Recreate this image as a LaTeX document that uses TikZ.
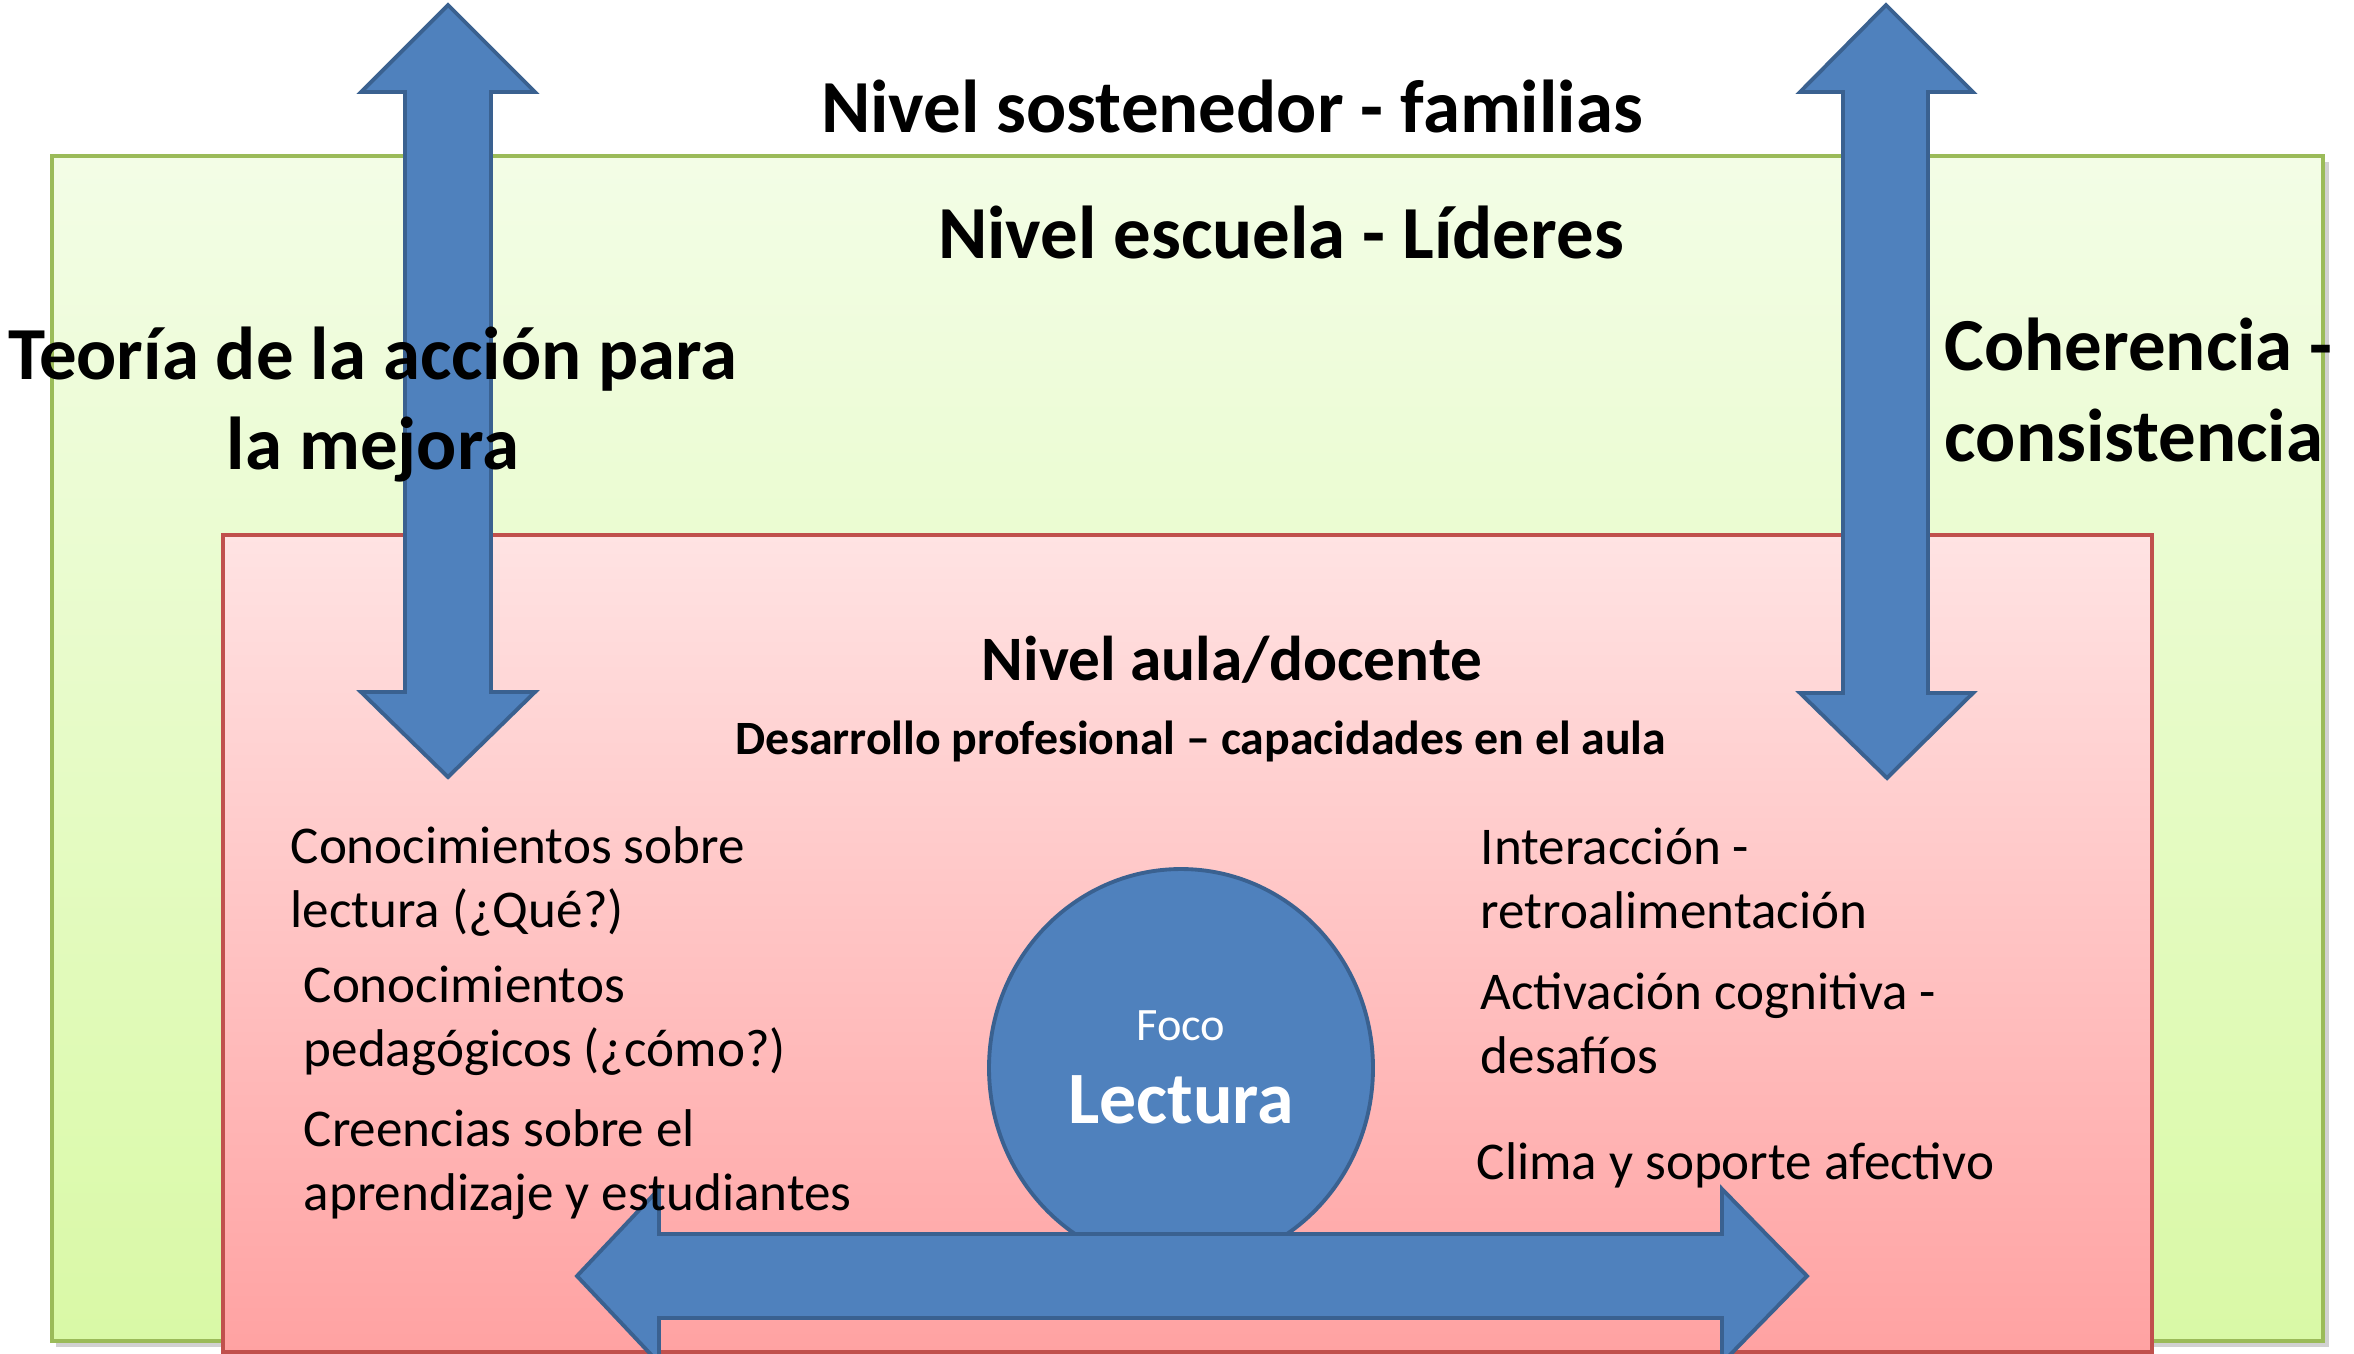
\documentclass[tikz,border=0pt]{standalone}
\usepackage{fontspec}
\setmainfont{Carlito}
\definecolor{grnTop}{HTML}{F3FDE6}
\definecolor{grnBot}{HTML}{D9F9A6}
\definecolor{grnLine}{HTML}{9BBB59}
\definecolor{pnkTop}{HTML}{FFE3E3}
\definecolor{pnkBot}{HTML}{FFA2A2}
\definecolor{pnkLine}{HTML}{C0504D}
\definecolor{bluFill}{HTML}{4F81BD}
\definecolor{bluLine}{HTML}{3A6190}
\tikzset{
  blueshape/.style={fill=bluFill, draw=bluLine, line width=1.1pt, line join=miter},
  bigtitle/.style={font=\fontsize{21.3}{25.6}\selectfont\bfseries, inner sep=0pt},
  listtext/.style={font=\fontsize{15.1}{18.1}\selectfont, inner sep=0pt, align=left, anchor=base west},
}
\begin{document}
\begin{tikzpicture}[x=0.01cm, y=-0.01cm]
\useasboundingbox (0,0) rectangle (2354,1353);
\clip (0,0) rectangle (2354,1353);
% shadow of green box
\fill[black, opacity=0.18] (56,162) rectangle (2329,1347);
% green level box
\shade[top color=grnTop, bottom color=grnBot] (52,156) rectangle (2323,1341);
\draw[grnLine, line width=0.9pt] (52,156) rectangle (2323,1341);
% pink level box
\shade[top color=pnkTop, bottom color=pnkBot] (223,535) rectangle (2152,1352);
\draw[pnkLine, line width=0.9pt] (223,535) rectangle (2152,1352);
% vertical double arrows
\draw[blueshape] (448,5) -- (361,92) -- (405,92) -- (405,692) -- (361,692) -- (448,777)
  -- (535,692) -- (491,692) -- (491,92) -- (535,92) -- cycle;
\draw[blueshape] (1886,5) -- (1800,92) -- (1843,92) -- (1843,693) -- (1800,693) -- (1887,778)
  -- (1973,693) -- (1928,693) -- (1928,92) -- (1973,92) -- cycle;
% focus circle
\draw[blueshape] (1181,1068) ellipse [x radius=192, y radius=199];
% horizontal double arrow
\draw[blueshape] (577,1276) -- (659,1189) -- (659,1234) -- (1722,1234) -- (1722,1189) -- (1807,1276)
  -- (1722,1363) -- (1722,1318) -- (659,1318) -- (659,1363) -- cycle;
% texts (multi-line nodes: base = baseline of last line)
\node[bigtitle, anchor=base] (sost) at (1232,132) {Nivel sostenedor - familias};
\node[bigtitle, anchor=base] (esc) at (1281,258) {Nivel escuela - Líderes};
\node[bigtitle, anchor=base, align=center] (teo) at (373,469) {Teoría de la acción para\\la mejora};
\node[bigtitle, anchor=base west, align=left] (coh) at (1944,461) {Coherencia -\\consistencia};
\node[font=\fontsize{18}{22}\selectfont\bfseries, inner sep=0pt, anchor=base] (aula) at (1232,680) {Nivel aula/docente};
\node[font=\fontsize{13.6}{16}\selectfont\bfseries, inner sep=0pt, anchor=base] (des) at (1201,754) {Desarrollo profesional – capacidades en el aula};
\node[listtext] (l1) at (290,927) {Conocimientos sobre\\lectura (¿Qué?)};
\node[listtext] (l2) at (303,1066) {Conocimientos\\pedagógicos (¿cómo?)};
\node[listtext] (l3) at (303,1210) {Creencias sobre el\\aprendizaje y estudiantes};
\node[listtext] (r1) at (1480,928) {Interacción -\\retroalimentación};
\node[listtext] (r2) at (1480,1073) {Activación cognitiva -\\desafíos};
\node[listtext] (r3) at (1476,1179) {Clima y soporte afectivo};
\node[font=\fontsize{13.2}{15}\selectfont, text=white, inner sep=0pt, anchor=base] (foc) at (1181,1040) {Foco};
\node[font=\fontsize{21}{25}\selectfont\bfseries, text=white, inner sep=0pt, anchor=base] (lec) at (1181,1123) {Lectura};
\end{tikzpicture}
\end{document}
